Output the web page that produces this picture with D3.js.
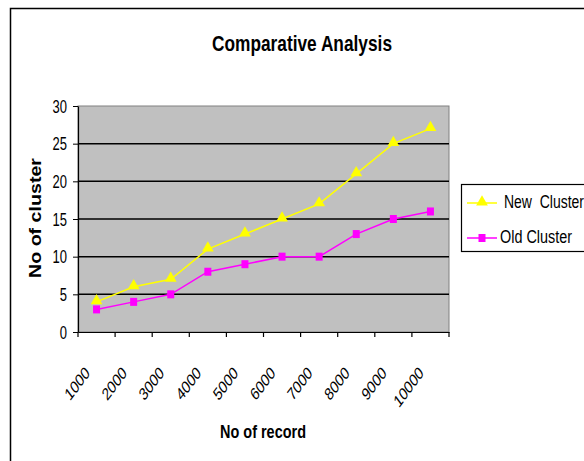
<!DOCTYPE html>
<html>
<head>
<meta charset="utf-8">
<script src="https://cdn.jsdelivr.net/npm/d3@7"></script>
<style>
  body { margin: 0; background: #fff; }
  text { font-family: "Liberation Sans", Arial, sans-serif; white-space: pre; }
</style>
</head>
<body>
<svg id="chart" width="584" height="461"></svg>
<script>
  // data
  const records = ["1000", "2000", "3000", "4000", "5000", "6000", "7000", "8000", "9000", "10000"];
  const newCluster = [4, 6, 7, 11, 13, 15, 17, 21, 25, 27];
  const oldCluster = [3, 4, 5, 8, 9, 10, 10, 13, 15, 16];
  const yTicks = [0, 5, 10, 15, 20, 25, 30];
  const seriesNames = ["New  Cluster", "Old Cluster"];

  const svg = d3.select("#chart");
  const margin = { top: 106, left: 78, right: 449, bottom: 332 };
  const stretch = 1.35; // the original picture is drawn taller than wide

  // outer frame
  svg.append("rect")
    .attr("x", 10.5).attr("y", 8.5)
    .attr("width", 600).attr("height", 500)
    .attr("fill", "#fff").attr("stroke", "#000").attr("stroke-width", 1.5);

  const x = d3.scaleBand().domain(records).range([margin.left, margin.right]);
  const y = d3.scaleLinear().domain([0, 30]).range([margin.bottom, margin.top]);

  // plot area
  svg.append("rect")
    .attr("x", margin.left).attr("y", margin.top)
    .attr("width", margin.right - margin.left).attr("height", margin.bottom - margin.top)
    .attr("fill", "#c0c0c0").attr("stroke", "#808080").attr("stroke-width", 1);

  // gridlines
  svg.append("g").selectAll("line")
    .data(yTicks.slice(1, -1))
    .join("line")
      .attr("x1", margin.left).attr("x2", margin.right)
      .attr("y1", d => y(d)).attr("y2", d => y(d))
      .attr("stroke", "#000").attr("stroke-width", 1.5);

  // y axis
  const yAxis = svg.append("g")
    .attr("transform", "translate(" + margin.left + ",0)")
    .call(d3.axisLeft(y).tickValues(yTicks).tickSize(5).tickSizeOuter(0));
  yAxis.select(".domain").attr("stroke", "#000").attr("stroke-width", 1.2);
  yAxis.selectAll(".tick text").remove();
  yAxis.selectAll(".tick").append("text")
    .attr("transform", "translate(-11,0) scale(1," + stretch + ")")
    .attr("text-anchor", "end")
    .attr("dy", "0.36em")
    .attr("font-size", 13)
    .attr("fill", "#000")
    .text(d => d);

  // x axis
  const xAxis = svg.append("g")
    .attr("transform", "translate(0," + margin.bottom + ")")
    .call(d3.axisBottom(x).tickSize(0).tickSizeOuter(0).tickFormat(""));
  xAxis.select(".domain").attr("stroke", "#000").attr("stroke-width", 1.2);
  svg.append("g").selectAll("line")
    .data(records.concat(["end"]))
    .join("line")
      .attr("x1", (d, i) => i < records.length ? x(d) : margin.right)
      .attr("x2", (d, i) => i < records.length ? x(d) : margin.right)
      .attr("y1", margin.bottom).attr("y2", margin.bottom + 5)
      .attr("stroke", "#000").attr("stroke-width", 1.2);

  svg.append("g").selectAll("text")
    .data(records)
    .join("text")
      .attr("transform", d => "translate(" + (x(d) + x.bandwidth() / 2 - 6) + "," + (margin.bottom + 42) + ") scale(1," + stretch + ") rotate(-45)")
      .attr("text-anchor", "end")
      .attr("font-size", 13)
      .text(d => d);

  // lines and markers
  const line = d3.line()
    .x((d, i) => x(records[i]) + x.bandwidth() / 2)
    .y(d => y(d));

  svg.append("path").datum(newCluster)
    .attr("d", line).attr("fill", "none").attr("stroke", "#ffff00").attr("stroke-width", 1.5);
  svg.append("path").datum(oldCluster)
    .attr("d", line).attr("fill", "none").attr("stroke", "#ff00ff").attr("stroke-width", 1.5);

  const tri = d3.symbol().type(d3.symbolTriangle).size(60);
  svg.append("g").selectAll("path")
    .data(newCluster)
    .join("path")
      .attr("d", tri)
      .attr("transform", (d, i) => "translate(" + (x(records[i]) + x.bandwidth() / 2) + "," + (y(d) - 1) + ")")
      .attr("fill", "#ffff00");

  svg.append("g").selectAll("rect")
    .data(oldCluster)
    .join("rect")
      .attr("x", (d, i) => x(records[i]) + x.bandwidth() / 2 - 3.5)
      .attr("y", d => y(d) - 4)
      .attr("width", 7).attr("height", 8)
      .attr("fill", "#ff00ff");

  // title
  svg.append("text")
    .attr("transform", "translate(302,51) scale(1," + stretch + ")")
    .attr("text-anchor", "middle")
    .attr("font-size", 16.5).attr("font-weight", "bold")
    .attr("textLength", 180).attr("lengthAdjust", "spacingAndGlyphs")
    .text("Comparative Analysis");

  // axis titles
  svg.append("text")
    .attr("transform", "translate(41,218) rotate(-90)")
    .attr("text-anchor", "middle")
    .attr("font-size", 17).attr("font-weight", "bold")
    .attr("textLength", 120).attr("lengthAdjust", "spacingAndGlyphs")
    .text("No of cluster");

  svg.append("text")
    .attr("transform", "translate(263,438) scale(1," + stretch + ")")
    .attr("text-anchor", "middle")
    .attr("font-size", 13).attr("font-weight", "bold")
    .attr("textLength", 86).attr("lengthAdjust", "spacingAndGlyphs")
    .text("No of record");

  // legend
  const legend = svg.append("g");
  legend.append("rect")
    .attr("x", 461.5).attr("y", 184.5)
    .attr("width", 140).attr("height", 67)
    .attr("fill", "#fff").attr("stroke", "#000").attr("stroke-width", 1.2);

  const legendColors = ["#ffff00", "#ff00ff"];
  const legendY = [203, 238];
  seriesNames.forEach((name, i) => {
    legend.append("line")
      .attr("x1", 467).attr("x2", 497)
      .attr("y1", legendY[i]).attr("y2", legendY[i])
      .attr("stroke", legendColors[i]).attr("stroke-width", 1.5);
    if (i === 0) {
      legend.append("path")
        .attr("d", tri)
        .attr("transform", "translate(482," + (legendY[i] - 1) + ")")
        .attr("fill", legendColors[i]);
    } else {
      legend.append("rect")
        .attr("x", 478.5).attr("y", legendY[i] - 4)
        .attr("width", 7).attr("height", 8)
        .attr("fill", legendColors[i]);
    }
    legend.append("text")
      .attr("transform", "translate(" + (i === 0 ? 504 : 500) + "," + (legendY[i] + 5) + ") scale(1," + stretch + ")")
      .attr("font-size", 13.5)
      .attr("textLength", i === 0 ? 80 : 72).attr("lengthAdjust", "spacingAndGlyphs")
      .text(name);
  });
</script>
</body>
</html>
